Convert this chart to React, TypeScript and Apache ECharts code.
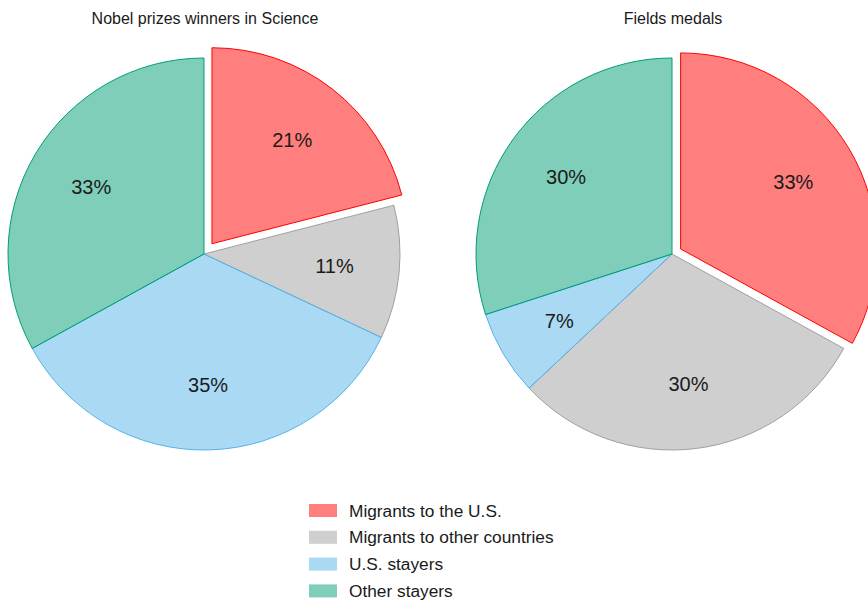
import React, { useEffect, useRef } from "react";
import * as echarts from "echarts";

const categories = [
  "Migrants to the U.S.",
  "Migrants to other countries",
  "U.S. stayers",
  "Other stayers",
];
const nobelValues = [21, 11, 35, 33];
const fieldsValues = [33, 30, 7, 30];
const titles = ["Nobel prizes winners in Science", "Fields medals"];

const strokeColors = ["#FF0000", "#A0A0A0", "#56B4E9", "#009E73"];
const fillColors = [
  "rgba(255,0,0,0.5)",
  "rgba(160,160,160,0.5)",
  "rgba(86,180,233,0.5)",
  "rgba(0,158,115,0.5)",
];

const FONT = "'Liberation Sans', Arial, sans-serif";

function mainSeries(values: number[], center: number[], offset: number) {
  return {
    type: "pie",
    center,
    radius: [0, 196],
    startAngle: 90,
    clockwise: true,
    selectedMode: "single",
    selectedOffset: offset,
    silent: true,
    label: { show: false },
    labelLine: { show: false },
    emphasis: { disabled: true },
    data: values.map((v, i) => ({
      name: categories[i],
      value: v,
      selected: i === 0,
      itemStyle: {
        color: fillColors[i],
        borderColor: strokeColors[i],
        borderWidth: 1,
      },
    })),
  };
}

function labelSeries(values: number[], center: number[], offset: number) {
  return {
    type: "pie",
    center,
    radius: [120, 136],
    startAngle: 90,
    clockwise: true,
    selectedMode: "single",
    selectedOffset: offset,
    silent: true,
    emphasis: { disabled: true },
    label: {
      show: true,
      position: "inside",
      formatter: "{c}%",
      fontSize: 20,
      fontFamily: FONT,
      color: "#1a1a1a",
    },
    labelLine: { show: false },
    itemStyle: { color: "rgba(0,0,0,0)", borderWidth: 0 },
    data: values.map((v, i) => ({
      name: categories[i],
      value: v,
      selected: i === 0,
    })),
  };
}

export default function App() {
  const ref = useRef<HTMLDivElement>(null);
  useEffect(() => {
    if (!ref.current) return;
    const chart = echarts.init(ref.current, undefined, { renderer: "svg" });
    chart.setOption({
      animation: false,
      backgroundColor: "#ffffff",
      title: [
        {
          text: titles[0],
          left: 205,
          top: 10,
          padding: 0,
          textAlign: "center",
          textStyle: { fontSize: 16, fontWeight: "normal", color: "#1a1a1a", fontFamily: FONT },
        },
        {
          text: titles[1],
          left: 673,
          top: 10,
          padding: 0,
          textAlign: "center",
          textStyle: { fontSize: 16, fontWeight: "normal", color: "#1a1a1a", fontFamily: FONT },
        },
      ],
      legend: {
        orient: "vertical",
        left: 309,
        top: 502,
        padding: 0,
        icon: "rect",
        itemWidth: 28,
        itemHeight: 13,
        itemGap: 9.8,
        selectedMode: false,
        data: categories,
        itemStyle: { borderWidth: 0 },
        textStyle: {
          fontSize: 17.3,
          fontFamily: FONT,
          color: "#1a1a1a",
          padding: [0, 0, 0, 7],
        },
      },
      series: [
        mainSeries(nobelValues, [204, 254], 13),
        mainSeries(fieldsValues, [672, 254], 10),
        labelSeries(nobelValues, [204, 254], 13),
        labelSeries(fieldsValues, [672, 254], 10),
      ],
    });
    return () => chart.dispose();
  }, []);
  return (
    <div
      ref={ref}
      style={{ position: "fixed", left: 0, top: 0, width: 868, height: 601 }}
    />
  );
}
